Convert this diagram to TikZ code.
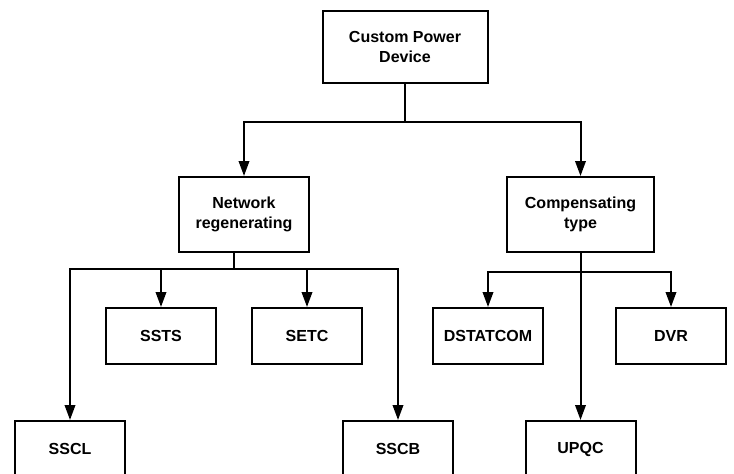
\documentclass[tikz,border=0pt]{standalone}
\usepackage{fontspec}
\setmainfont{Liberation Sans}
\usepackage{tikz}
\usetikzlibrary{positioning,arrows.meta}

\tikzset{
  box/.style={draw,line width=2pt,inner sep=0pt,align=center,
    minimum width=110pt,minimum height=56pt,font=\bfseries\fontsize{16}{20.7}\selectfont},
  arr/.style={line width=2pt,-{Triangle[length=15pt,width=10.5pt]}},
  wire/.style={line width=2pt}
}

\begin{document}
\begin{tikzpicture}[x=1pt,y=-1pt]
\useasboundingbox (0,0) rectangle (734,474);
% top level
\node[box,minimum width=165pt,minimum height=72pt] (cpd) at (405,47) {Custom Power\\Device};
% the two families
\node[box,minimum width=130pt,minimum height=75pt] (net) at (244,214.5) {Network\\regenerating};
\node[box,minimum width=147pt,minimum height=75pt] (comp) at (580.5,214.5) {Compensating\\type};
\coordinate (j1) at (405,122);
\draw[wire] (cpd.south) -- (j1);
\draw[arr] (j1) -| (net.north);
\draw[arr] (j1) -| (comp.north);
% network regenerating devices
\node[box] (ssts) at (161,336) {SSTS};
\node[box] (setc) at (307,336) {SETC};
\node[box] (sscl) at (70,449) {SSCL};
\node[box] (sscb) at (398,449) {SSCB};
\coordinate (j2) at (234,269);
\draw[wire] ([xshift=-10pt]net.south) -- (j2);
\foreach \d in {ssts,setc,sscl,sscb} \draw[arr] (j2) -| (\d.north);
% compensating devices
\node[box] (dstat) at (488,336) {DSTATCOM};
\node[box] (dvr) at (671,336) {DVR};
\node[box] (upqc) at (580.5,449) {UPQC};
\coordinate (j3) at (580.5,272);
\draw[arr] (comp.south) -- (upqc.north);
\foreach \d in {dstat,dvr} \draw[arr] (j3) -| (\d.north);
\end{tikzpicture}
\end{document}
